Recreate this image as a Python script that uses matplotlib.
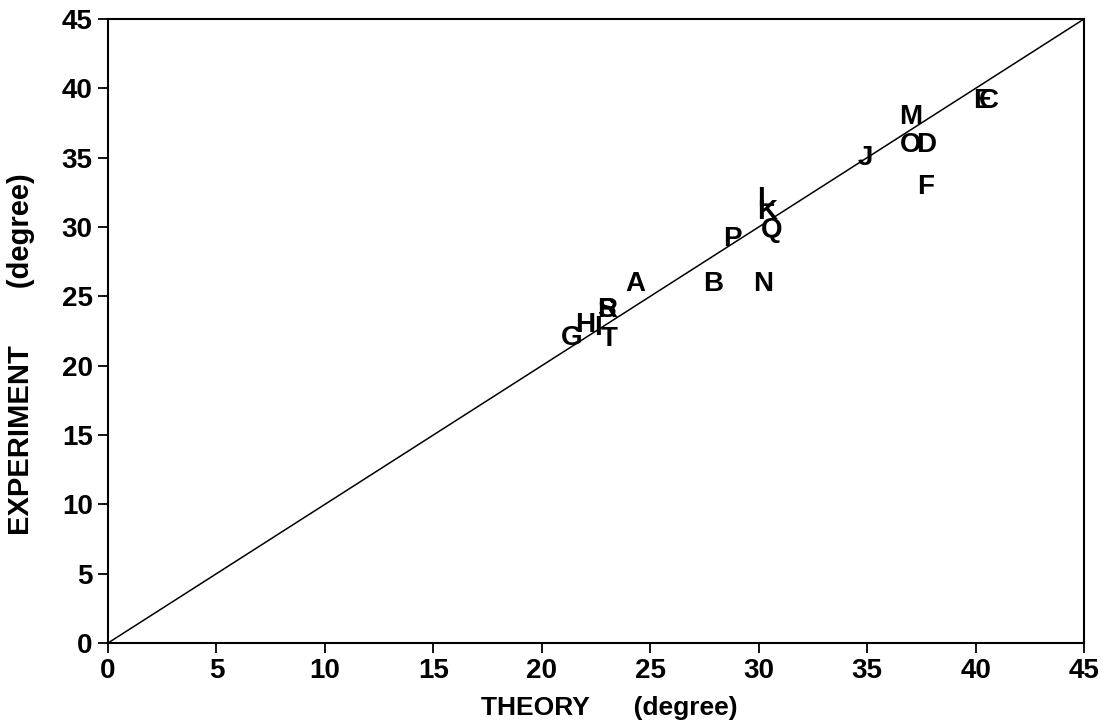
import matplotlib.pyplot as plt

plt.rcParams['font.family'] = ['Liberation Sans', 'DejaVu Sans']
plt.rcParams['font.weight'] = 'bold'

# point labels with (theory, experiment) values in degrees
LABELS = ['A', 'B', 'C', 'D', 'E', 'F', 'G', 'H', 'I', 'J',
          'K', 'L', 'M', 'N', 'O', 'P', 'Q', 'R', 'S', 'T']
THEORY = [24.3, 27.9, 40.6, 37.7, 40.3, 37.7, 21.4, 22.0, 22.6, 34.9,
          30.4, 30.3, 37.0, 30.2, 37.0, 28.8, 30.6, 23.0, 23.0, 23.1]
EXPERIMENT = [25.9, 25.9, 39.1, 35.9, 39.1, 32.9, 22.0, 22.9, 22.7, 35.0,
              31.1, 32.0, 37.9, 25.9, 35.9, 29.1, 29.8, 24.0, 24.0, 21.9]
TICKS = [0, 5, 10, 15, 20, 25, 30, 35, 40, 45]

fig = plt.figure(figsize=(11.09, 7.25), dpi=100)
ax = fig.add_axes([0.0974, 0.1131, 0.8801, 0.8607])

# y = x reference line
ax.plot([0, 45], [0, 45], color='black', linewidth=1.1, zorder=2)

for lab, x, y in zip(LABELS, THEORY, EXPERIMENT):
    ax.text(x, y, lab, ha='center', va='center', fontsize=20,
            fontweight='bold', color='black', zorder=3)

ax.set_xlim(0, 45)
ax.set_ylim(0, 45)
ax.set_xticks(TICKS)
ax.set_yticks(TICKS)
for s in ax.spines.values():
    s.set_linewidth(1.5)
ax.tick_params(axis='both', direction='out', length=7, width=1.3,
               labelsize=20, top=False, right=False)
ax.tick_params(axis='x', pad=4)
ax.tick_params(axis='y', pad=4)
for t in ax.get_xticklabels() + ax.get_yticklabels():
    t.set_fontweight('bold')

ax.set_xlabel('THEORY      (degree)', fontsize=19, fontweight='bold')
ax.xaxis.set_label_coords(0.514, -0.085)
ax.set_ylabel('EXPERIMENT       (degree)', fontsize=21, fontweight='bold')
ax.yaxis.set_label_coords(-0.075, 0.463)

plt.savefig('out.png', dpi=100)
plt.close()
